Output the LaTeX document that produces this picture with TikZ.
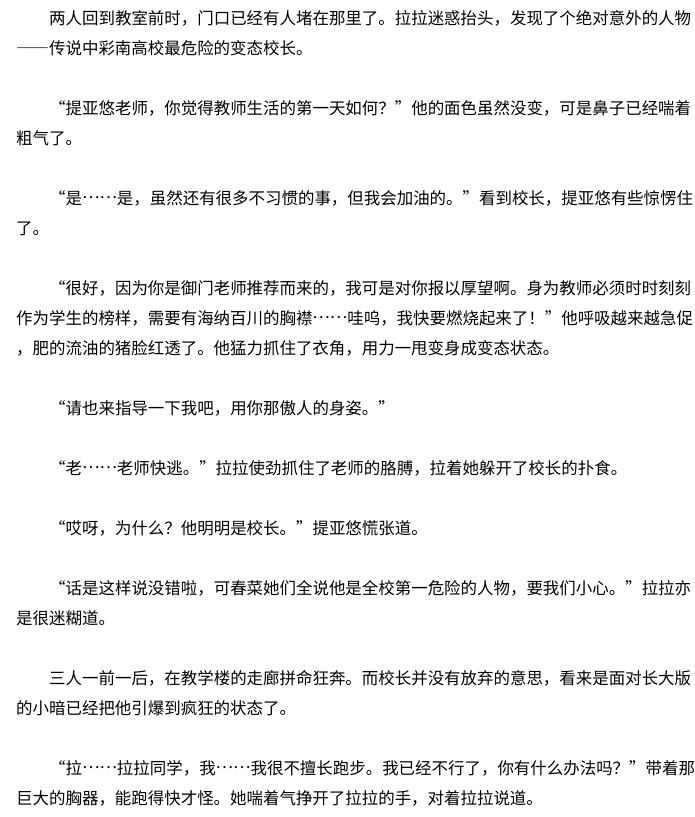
\documentclass[tikz,border=0pt]{standalone}
\usepackage{fontspec}
\newfontfamily\cjk[CharacterWidth=Full]{Noto Sans CJK SC}
\newcommand\middots{\raisebox{0.32em}{……}}

\begin{document}
\begin{tikzpicture}[x=1pt, y=-1pt,
        txt/.style={anchor=base west, inner sep=0pt, font=\cjk\fontsize{16.46pt}{20pt}\selectfont}]
        \path[fill=white, use as bounding box] (0,0) rectangle (694,817);

        \node[txt] (p1a) at (49,24) {两人回到教室前时，门口已经有人堵在那里了。拉拉迷惑抬头，发现了个绝对意外的人物};
        \node[txt] (p1b) at (16,54) {——传说中彩南高校最危险的变态校长。};

        \node[txt] (p2a) at (49,114) {“提亚悠老师，你觉得教师生活的第一天如何？”他的面色虽然没变，可是鼻子已经喘着};
        \node[txt] (p2b) at (16,144) {粗气了。};

        \node[txt] (p3a) at (49,204) {“是\middots 是，虽然还有很多不习惯的事，但我会加油的。”看到校长，提亚悠有些惊愣住};
        \node[txt] (p3b) at (16,234) {了。};

        \node[txt] (p4a) at (49,294) {“很好，因为你是御门老师推荐而来的，我可是对你报以厚望啊。身为教师必须时时刻刻};
        \node[txt] (p4b) at (16,324) {作为学生的榜样，需要有海纳百川的胸襟\middots 哇呜，我快要燃烧起来了！”他呼吸越来越急促};
        \node[txt] (p4c) at (16,354) {，肥的流油的猪脸红透了。他猛力抓住了衣角，用力一甩变身成变态状态。};

        \node[txt] (p5) at (49,414) {“请也来指导一下我吧，用你那傲人的身姿。”};

        \node[txt] (p6) at (49,474) {“老\middots 老师快逃。”拉拉使劲抓住了老师的胳膊，拉着她躲开了校长的扑食。};

        \node[txt] (p7) at (49,534) {“哎呀，为什么？他明明是校长。”提亚悠慌张道。};

        \node[txt] (p8a) at (49,594) {“话是这样说没错啦，可春菜她们全说他是全校第一危险的人物，要我们小心。”拉拉亦};
        \node[txt] (p8b) at (16,624) {是很迷糊道。};

        \node[txt] (p9a) at (49,684) {三人一前一后，在教学楼的走廊拼命狂奔。而校长并没有放弃的意思，看来是面对长大版};
        \node[txt] (p9b) at (16,714) {的小暗已经把他引爆到疯狂的状态了。};

        \node[txt] (p10a) at (49,774) {“拉\middots 拉拉同学，我\middots 我很不擅长跑步。我已经不行了，你有什么办法吗？”带着那};
        \node[txt] (p10b) at (16,804) {巨大的胸器，能跑得快才怪。她喘着气挣开了拉拉的手，对着拉拉说道。};
      \end{tikzpicture}
\end{document}
